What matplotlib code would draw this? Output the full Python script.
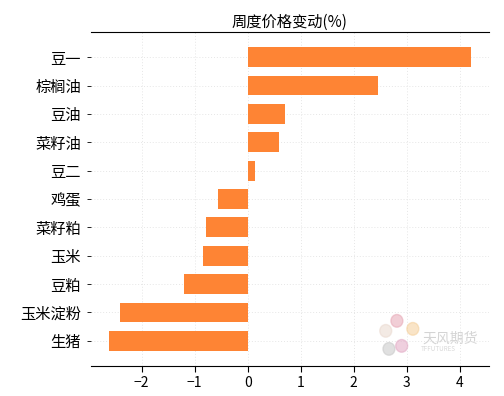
import matplotlib
matplotlib.use("Agg")
import matplotlib.pyplot as plt
from matplotlib.patches import Ellipse

plt.rcParams['font.family'] = ['Noto Sans CJK SC', 'DejaVu Sans']
plt.rcParams['axes.unicode_minus'] = True

#### datos
productos = ["豆一", "棕榈油", "豆油", "菜籽油", "豆二", "鸡蛋",
             "菜籽粕", "玉米", "豆粕", "玉米淀粉", "生猪"]
cambio = [4.21, 2.45, 0.70, 0.60, 0.13, -0.55,
          -0.79, -0.85, -1.21, -2.40, -2.62]

fig = plt.figure(figsize=(5.04, 3.96), dpi=100)
ax = fig.add_axes([0.18, 0.076, 0.79, 0.843])

ax.barh(productos, cambio, height=0.7, color="#fe8434", zorder=2)
ax.invert_yaxis()
ax.set_xlim(-2.96, 4.55)

ax.grid(True, color="#e6e6e6", linestyle=(0, (1, 2)), linewidth=0.7, zorder=0)
ax.set_axisbelow(True)
for s in ["left", "right"]:
    ax.spines[s].set_visible(False)
ax.spines["top"].set_linewidth(0.8)
ax.spines["bottom"].set_linewidth(0.8)

ax.tick_params(axis="y", labelsize=11, length=3, width=0.6, pad=4)
ax.tick_params(axis="x", labelsize=10, length=4, width=0.8)
ax.set_title("周度价格变动(%)", fontsize=11, pad=4)

#### marca de agua (logo tenue)
petalos = [(0.749, 0.051, "#c8c8c8"), (0.781, 0.060, "#e2a9c4"),
           (0.809, 0.111, "#f5cf9a"), (0.769, 0.135, "#e7a7b5"),
           (0.741, 0.105, "#ead9cf")]
for x0, y0, c in petalos:
    ax.add_patch(Ellipse((x0, y0), 0.03, 0.038, transform=ax.transAxes,
                         color=c, alpha=0.55, zorder=1))
ax.text(0.902, 0.081, "天风期货", transform=ax.transAxes, fontsize=10,
        color="#d4d4d4", ha="center", va="center", zorder=1)
ax.text(0.874, 0.051, "TFFUTURES", transform=ax.transAxes, fontsize=4.5,
        color="#d8d8d8", ha="center", va="center", zorder=1)

plt.savefig("out.png", dpi=100)
